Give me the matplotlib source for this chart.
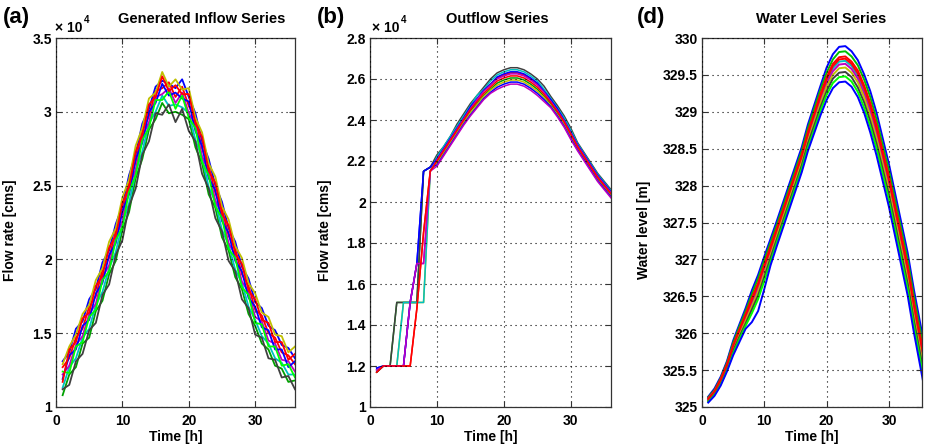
import matplotlib
matplotlib.use('Agg')
import matplotlib.pyplot as plt

# ---------------- data ----------------
hours = list(range(1, 37))

# (a) generated inflow ensemble, flow rate in units of 10^4 cms
inflow_1 = [1.31,1.37,1.53,1.58,1.73,1.80,1.98,2.06,2.24,2.36,2.57,2.71,2.92,3.02,3.17,3.21,3.19,3.16,3.22,3.10,2.99,2.80,2.68,2.50,2.39,2.21,2.12,1.95,1.87,1.71,1.67,1.55,1.52,1.42,1.40,1.33]
inflow_2 = [1.08,1.22,1.27,1.43,1.47,1.65,1.72,1.90,1.99,2.20,2.32,2.55,2.68,2.88,2.95,3.06,2.99,3.00,2.98,2.95,2.76,2.65,2.44,2.35,2.15,2.06,1.88,1.80,1.63,1.55,1.43,1.39,1.28,1.26,1.17,1.18]
inflow_3 = [1.27,1.33,1.47,1.53,1.68,1.75,1.93,2.01,2.19,2.31,2.52,2.66,2.87,2.97,3.14,3.16,3.20,3.10,3.17,3.04,2.95,2.75,2.63,2.45,2.34,2.16,2.07,1.90,1.82,1.66,1.62,1.50,1.47,1.37,1.35,1.29]
inflow_4 = [1.13,1.27,1.33,1.47,1.53,1.69,1.78,1.94,2.05,2.24,2.38,2.59,2.73,2.92,3.00,3.11,3.04,3.05,3.03,2.99,2.81,2.69,2.49,2.39,2.20,2.10,1.93,1.84,1.68,1.59,1.48,1.43,1.33,1.30,1.22,1.22]
inflow_5 = [1.22,1.28,1.42,1.48,1.63,1.70,1.88,1.96,2.15,2.26,2.48,2.61,2.83,2.93,3.10,3.12,3.16,3.06,3.13,2.99,2.91,2.70,2.59,2.40,2.30,2.11,2.03,1.85,1.78,1.61,1.58,1.45,1.43,1.32,1.31,1.24]
inflow_6 = [1.29,1.41,1.49,1.63,1.69,1.86,1.94,2.12,2.21,2.42,2.54,2.77,2.89,3.09,3.13,3.27,3.17,3.22,3.15,3.16,2.96,2.86,2.65,2.56,2.36,2.27,2.09,2.01,1.84,1.77,1.64,1.61,1.49,1.48,1.37,1.41]
inflow_7 = [1.12,1.15,1.31,1.36,1.52,1.57,1.76,1.83,2.03,2.13,2.36,2.48,2.71,2.80,2.99,2.98,3.05,2.93,3.02,2.87,2.80,2.58,2.48,2.28,2.19,1.99,1.92,1.73,1.67,1.49,1.47,1.33,1.32,1.20,1.21,1.12]
inflow_8 = [1.19,1.35,1.39,1.55,1.59,1.77,1.84,2.03,2.11,2.33,2.44,2.68,2.79,3.00,3.06,3.19,3.11,3.13,3.09,3.07,2.87,2.77,2.55,2.47,2.26,2.18,1.99,1.92,1.74,1.68,1.54,1.52,1.39,1.39,1.27,1.31]
inflow_9 = [1.24,1.23,1.41,1.44,1.61,1.66,1.86,1.92,2.13,2.22,2.46,2.57,2.81,2.89,3.08,3.08,3.14,3.02,3.11,2.96,2.89,2.66,2.57,2.36,2.28,2.07,2.01,1.81,1.76,1.57,1.56,1.41,1.41,1.28,1.29,1.20]
inflow_10 = [1.17,1.39,1.44,1.60,1.64,1.82,1.89,2.08,2.16,2.38,2.49,2.73,2.84,3.05,3.10,3.24,3.14,3.18,3.12,3.12,2.92,2.83,2.60,2.52,2.31,2.23,2.04,1.97,1.79,1.73,1.59,1.57,1.44,1.44,1.32,1.36]

# (b) outflow ensemble, units of 10^4 cms
outflow_6 = [1.17,1.20,1.20,1.51,1.51,1.51,1.51,2.15,2.17,2.195,2.245,2.295,2.345,2.395,2.445,2.48,2.52,2.55,2.58,2.595,2.605,2.605,2.595,2.575,2.55,2.515,2.48,2.435,2.385,2.325,2.265,2.215,2.165,2.115,2.075,2.035]
outflow_7 = [1.18,1.20,1.20,1.20,1.51,1.51,1.51,1.51,2.15,2.19,2.24,2.29,2.34,2.39,2.435,2.475,2.515,2.545,2.57,2.585,2.595,2.595,2.585,2.565,2.54,2.51,2.47,2.425,2.38,2.32,2.26,2.21,2.16,2.11,2.07,2.03]
outflow_8 = [1.19,1.20,1.20,1.20,1.20,1.51,1.70,2.15,2.17,2.18,2.23,2.28,2.33,2.38,2.425,2.465,2.505,2.535,2.56,2.575,2.585,2.585,2.575,2.555,2.53,2.50,2.465,2.42,2.37,2.31,2.255,2.205,2.155,2.105,2.065,2.025]
outflow_9 = [1.18,1.20,1.20,1.20,1.20,1.51,1.70,1.70,2.15,2.175,2.225,2.275,2.325,2.375,2.42,2.46,2.50,2.53,2.55,2.565,2.575,2.575,2.565,2.545,2.52,2.49,2.46,2.415,2.365,2.305,2.25,2.20,2.15,2.10,2.06,2.02]
outflow_10 = [1.17,1.20,1.20,1.20,1.20,1.20,1.48,1.85,2.15,2.215,2.26,2.31,2.365,2.415,2.46,2.50,2.545,2.575,2.605,2.62,2.63,2.63,2.62,2.60,2.575,2.54,2.50,2.45,2.40,2.34,2.28,2.23,2.175,2.125,2.085,2.045]
outflow_1 = [1.17,1.20,1.20,1.51,1.51,1.51,1.51,2.15,2.17,2.23,2.27,2.32,2.38,2.43,2.48,2.52,2.56,2.60,2.63,2.645,2.655,2.655,2.645,2.625,2.60,2.565,2.515,2.47,2.42,2.36,2.29,2.24,2.19,2.14,2.10,2.06]
outflow_2 = [1.18,1.20,1.20,1.20,1.51,1.51,1.51,1.51,2.15,2.22,2.27,2.32,2.37,2.42,2.47,2.52,2.55,2.59,2.62,2.635,2.645,2.645,2.635,2.615,2.59,2.55,2.505,2.46,2.41,2.35,2.285,2.235,2.185,2.135,2.095,2.055]
outflow_3 = [1.19,1.20,1.20,1.20,1.20,1.51,1.70,2.15,2.17,2.21,2.26,2.31,2.36,2.41,2.465,2.505,2.545,2.575,2.61,2.625,2.635,2.635,2.625,2.605,2.58,2.54,2.50,2.455,2.40,2.34,2.28,2.23,2.18,2.13,2.09,2.05]
outflow_4 = [1.18,1.20,1.20,1.20,1.20,1.51,1.70,1.70,2.15,2.205,2.255,2.305,2.355,2.405,2.455,2.50,2.54,2.57,2.60,2.615,2.625,2.625,2.615,2.595,2.57,2.535,2.49,2.445,2.395,2.335,2.275,2.225,2.175,2.125,2.085,2.045]
outflow_5 = [1.17,1.20,1.20,1.20,1.20,1.20,1.48,1.85,2.15,2.20,2.25,2.30,2.35,2.40,2.45,2.49,2.53,2.56,2.59,2.605,2.615,2.615,2.605,2.585,2.56,2.525,2.485,2.44,2.39,2.33,2.27,2.22,2.17,2.12,2.08,2.04]

# (d) water level ensemble [m]
level_1 = [325.14,325.25,325.41,325.62,325.90,326.12,326.34,326.58,326.79,327.04,327.28,327.52,327.77,328.02,328.27,328.52,328.83,329.09,329.35,329.60,329.78,329.88,329.89,329.82,329.70,329.51,329.28,328.99,328.64,328.29,327.89,327.49,327.09,326.59,326.14,325.69]
level_2 = [325.13,325.23,325.39,325.60,325.87,326.09,326.30,326.53,326.74,326.99,327.23,327.47,327.72,327.97,328.22,328.47,328.78,329.04,329.30,329.53,329.71,329.81,329.82,329.75,329.63,329.44,329.20,328.90,328.55,328.20,327.80,327.40,327.00,326.50,326.05,325.60]
level_3 = [325.12,325.22,325.38,325.58,325.84,326.05,326.26,326.48,326.68,326.93,327.18,327.42,327.67,327.92,328.17,328.42,328.73,328.98,329.24,329.47,329.65,329.74,329.75,329.68,329.56,329.36,329.12,328.82,328.47,328.12,327.72,327.32,326.92,326.42,325.97,325.52]
level_4 = [325.11,325.21,325.36,325.56,325.82,326.02,326.22,326.43,326.63,326.88,327.13,327.38,327.63,327.88,328.13,328.38,328.68,328.93,329.18,329.42,329.59,329.68,329.69,329.62,329.49,329.29,329.05,328.75,328.40,328.05,327.65,327.25,326.85,326.35,325.90,325.45]
level_5 = [325.10,325.20,325.35,325.55,325.80,326.00,326.20,326.40,326.60,326.85,327.10,327.35,327.60,327.85,328.10,328.35,328.65,328.90,329.15,329.38,329.55,329.64,329.65,329.58,329.45,329.25,329.00,328.70,328.35,328.00,327.60,327.20,326.80,326.30,325.85,325.40]
level_6 = [325.09,325.19,325.34,325.54,325.78,325.98,326.17,326.36,326.56,326.81,327.06,327.32,327.57,327.82,328.07,328.32,328.61,328.86,329.11,329.34,329.50,329.59,329.60,329.53,329.40,329.20,328.94,328.64,328.29,327.94,327.54,327.14,326.74,326.24,325.79,325.34]
level_7 = [325.08,325.18,325.32,325.52,325.76,325.95,326.13,326.32,326.51,326.76,327.02,327.27,327.52,327.77,328.02,328.27,328.57,328.81,329.06,329.28,329.45,329.53,329.54,329.47,329.33,329.13,328.87,328.57,328.22,327.87,327.47,327.07,326.67,326.17,325.72,325.27]
level_8 = [325.07,325.17,325.31,325.50,325.73,325.92,326.10,326.27,326.46,326.71,326.97,327.23,327.48,327.73,327.98,328.23,328.52,328.76,329.01,329.23,329.39,329.47,329.48,329.41,329.27,329.06,328.80,328.50,328.15,327.80,327.40,327.00,326.60,326.10,325.65,325.20]
level_9 = [325.06,325.15,325.29,325.48,325.70,325.88,326.06,326.15,326.30,326.60,326.92,327.18,327.43,327.68,327.93,328.18,328.47,328.71,328.95,329.16,329.32,329.40,329.41,329.34,329.20,328.99,328.72,328.41,328.06,327.71,327.31,326.91,326.51,326.01,325.56,325.11]
level_10 = [325.11,325.21,325.37,325.57,325.83,326.04,326.24,326.45,326.66,326.91,327.15,327.40,327.65,327.90,328.15,328.40,328.70,328.96,329.21,329.44,329.62,329.71,329.72,329.65,329.52,329.33,329.08,328.78,328.43,328.08,327.68,327.28,326.88,326.38,325.93,325.48]

inflow_series = [inflow_1, inflow_2, inflow_3, inflow_4, inflow_5, inflow_6, inflow_7, inflow_8, inflow_9, inflow_10]
outflow_series = [outflow_6, outflow_7, outflow_8, outflow_9, outflow_10, outflow_1, outflow_2, outflow_3, outflow_4, outflow_5]
level_series = [level_1, level_2, level_3, level_4, level_5, level_6, level_7, level_8, level_9, level_10]

inflow_colors = ['#0000ff', '#00a000', '#ff0000', '#00c0c0', '#c000c0', '#c0c000', '#404040', '#0000ff', '#00ff00', '#ff0000']
outflow_colors = ['#00a000', '#c0c000', '#0000ff', '#c000c0', '#ff0000', '#404040', '#00c0c0', '#0000ff', '#c000c0', '#ff0000']
level_colors = ['#0000ff', '#00c000', '#ff0000', '#00c0c0', '#c000c0', '#c0c000', '#404040', '#00ff00', '#0000ff', '#ff0000']

panel_letters = ['(a)', '(b)', '(d)']
panel_titles = ['Generated Inflow Series', 'Outflow Series', 'Water Level Series']
y_labels = ['Flow rate [cms]', 'Flow rate [cms]', 'Water level [m]']
x_label = 'Time [h]'
x_ticks = [0, 10, 20, 30]
y_ticks_a = [1, 1.5, 2, 2.5, 3, 3.5]
y_ticks_b = [1, 1.2, 1.4, 1.6, 1.8, 2, 2.2, 2.4, 2.6, 2.8]
y_ticks_d = [325, 325.5, 326, 326.5, 327, 327.5, 328, 328.5, 329, 329.5, 330]

# ---------------- figure ----------------
plt.rcParams['font.family'] = ['Liberation Sans', 'DejaVu Sans']
plt.rcParams['font.weight'] = 'bold'
plt.rcParams['axes.labelweight'] = 'bold'

W, H = 927, 447
fig = plt.figure(figsize=(W / 100, H / 100), dpi=100)


def add_ax(l, r, t, b):
    return fig.add_axes([l / W, 1 - b / H, (r - l) / W, (b - t) / H])


axA = add_ax(56, 295, 38, 407)
axB = add_ax(370, 611, 38, 407)
axD = add_ax(702, 922, 38, 407)
axes = [axA, axB, axD]

for s, c in zip(inflow_series, inflow_colors):
    axA.plot(hours, s, color=c, lw=1.3)
for s, c in zip(outflow_series, outflow_colors):
    axB.plot(hours, s, color=c, lw=1.1)
for s, c in zip(level_series, level_colors):
    axD.plot(hours, s, color=c, lw=1.4)

axA.set_xlim(0, 36)
axB.set_xlim(0, 36)
axD.set_xlim(0, 35.3)
axA.set_ylim(1, 3.5)
axB.set_ylim(1, 2.8)
axD.set_ylim(325, 330)
axA.set_yticks(y_ticks_a)
axB.set_yticks(y_ticks_b)
axD.set_yticks(y_ticks_d)

ylab_x = [-0.163, -0.158, -0.232]
title_x = [0.61, 0.53, 0.54]
letter_x = [3, 317, 637]

for i, ax in enumerate(axes):
    ax.set_xticks(x_ticks)
    ax.yaxis.set_major_formatter(matplotlib.ticker.FormatStrFormatter('%g'))
    ax.tick_params(direction='in', top=True, right=True, length=4, width=0.8,
                   labelsize=10, color='#333333')
    ax.tick_params(axis='x', pad=5)
    ax.tick_params(axis='y', pad=3)
    for lab in ax.get_xticklabels() + ax.get_yticklabels():
        lab.set_fontweight('bold')
    ax.grid(True, color='black', linestyle=(0, (1, 3.5)), linewidth=0.8)
    ax.set_axisbelow(False)
    for sp in ax.spines.values():
        sp.set_color('#333333')
        sp.set_linewidth(0.9)
    ax.set_xlabel(x_label, fontsize=10, fontweight='bold')
    ax.xaxis.set_label_coords(0.5, -0.062)
    ax.set_ylabel(y_labels[i], fontsize=10, fontweight='bold')
    ax.yaxis.set_label_coords(ylab_x[i], 0.48)
    ax.text(title_x[i], 1.033, panel_titles[i], transform=ax.transAxes,
            ha='center', va='bottom', fontsize=10.5, fontweight='bold')
    fig.text(letter_x[i] / W, 1 - 18 / H, panel_letters[i], ha='left', va='center',
             fontsize=16, fontweight='bold')

# "x 10^4" multiplier labels
for x0 in [55, 372]:
    fig.text(x0 / W, 1 - 32 / H, '\u00d7 10', ha='left', va='baseline', fontsize=10, fontweight='bold')
    fig.text((x0 + 29) / W, 1 - 23 / H, '4', ha='left', va='baseline', fontsize=7, fontweight='bold')

fig.savefig('out.png', dpi=100)
